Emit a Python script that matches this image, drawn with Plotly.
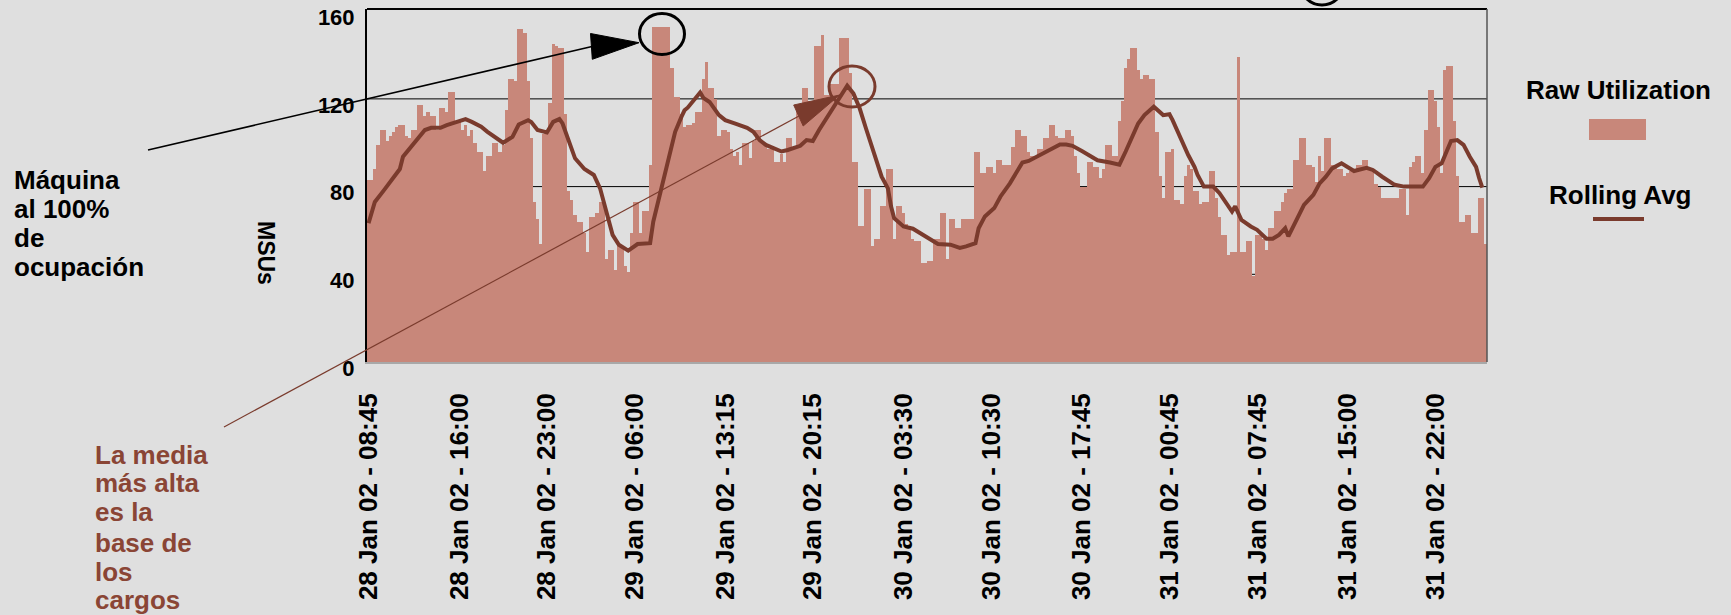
import plotly.graph_objects as go
import pandas as pd
from datetime import datetime

# ---------------- data ----------------
START = "2002-01-28 08:45"
STEP = "15min"

raw_utilization = [
    83, 83, 88, 99, 106, 106, 101, 103, 105, 107,
    108, 108, 103, 102, 106, 106, 117, 117, 112, 114,
    112, 112, 106, 116, 116, 114, 123, 123, 110, 110,
    106, 108, 103, 106, 100, 96, 96, 87, 94, 94,
    100, 100, 96, 99, 115, 129, 129, 128, 152, 152,
    150, 128, 102, 73, 65, 54, 104, 104, 118, 145,
    144, 143, 143, 113, 78, 74, 67, 64, 64, 59,
    50, 66, 66, 68, 73, 73, 47, 51, 51, 42,
    53, 53, 44, 41, 59, 73, 73, 59, 69, 69,
    90, 153, 153, 153, 153, 153, 153, 134, 121, 121,
    113, 107, 108, 108, 109, 114, 114, 129, 137, 125,
    125, 120, 103, 106, 106, 105, 97, 94, 96, 90,
    100, 100, 93, 101, 106, 106, 100, 100, 97, 97,
    91, 91, 95, 91, 102, 102, 98, 117, 117, 125,
    125, 119, 119, 144, 144, 149, 122, 122, 127, 127,
    127, 148, 148, 148, 132, 91, 91, 62, 62, 79,
    79, 53, 56, 56, 71, 71, 88, 88, 56, 71,
    71, 68, 63, 61, 56, 55, 55, 45, 45, 46,
    46, 56, 56, 68, 68, 47, 65, 65, 61, 61,
    65, 65, 65, 65, 96, 96, 86, 86, 89, 89,
    86, 92, 92, 90, 90, 90, 98, 106, 106, 103,
    103, 96, 94, 94, 97, 97, 102, 102, 108, 108,
    103, 102, 102, 106, 106, 103, 94, 86, 80, 80,
    91, 91, 89, 89, 84, 88, 99, 99, 94, 94,
    110, 119, 134, 138, 143, 143, 133, 129, 131, 131,
    129, 129, 105, 85, 75, 96, 96, 97, 74, 74,
    72, 85, 90, 88, 78, 78, 72, 73, 73, 87,
    87, 75, 66, 58, 58, 49, 50, 50, 139, 50,
    50, 55, 55, 39, 58, 58, 56, 51, 61, 61,
    69, 69, 73, 77, 79, 79, 92, 92, 102, 102,
    90, 90, 89, 82, 94, 87, 102, 102, 90, 90,
    88, 88, 85, 86, 87, 87, 90, 90, 92, 92,
    88, 88, 81, 80, 75, 75, 75, 75, 75, 75,
    79, 79, 67, 89, 91, 94, 94, 86, 106, 124,
    124, 119, 107, 86, 133, 135, 135, 110, 85, 64,
    64, 67, 67, 59, 59, 75, 75, 54,
]

# rolling average: sample slot (15-min slot number) and value
rolling_slot = [
    0, 2, 5, 8, 10, 11, 14, 16, 18, 20, 23, 25, 28, 31, 33, 36, 38, 41, 43, 46,
    48, 51, 52, 54, 57, 59, 61, 62, 64, 66, 69, 72, 74, 76, 78, 80, 83, 86, 90, 91,
    93, 95, 96, 98, 100, 101, 102, 104, 106, 107, 109, 112, 114, 117, 121, 123, 125, 127, 130, 132,
    134, 138, 140, 142, 144, 147, 150, 152, 153, 155, 157, 159, 162, 164, 166, 167, 168, 171, 174, 177,
    180, 182, 186, 189, 191, 194, 195, 197, 200, 202, 205, 206, 209, 211, 214, 217, 221, 223, 225, 228,
    230, 233, 237, 240, 242, 244, 246, 248, 251, 254, 256, 257, 259, 262, 264, 265, 267, 270, 272, 274,
    276, 277, 279, 282, 284, 287, 289, 291, 293, 294, 297, 299, 302, 304, 306, 308, 311, 313, 315, 319,
    321, 324, 328, 331, 337, 339, 341, 343, 345, 346, 348, 350, 352, 354, 355, 356,
]
rolling_avg = [
    63.3, 73, 78.5, 83.8, 88, 93.6, 99, 102.7, 105.8, 106.8, 106.8, 108, 109.5, 110.8, 109.5, 107.3, 105, 102, 100, 102.7,
    108.3, 110.3, 109.5, 105.8, 104.7, 109.5, 110.8, 108.8, 100.5, 92.9, 88, 85.3, 79.2, 68.6, 58, 53.5, 50.8, 53.8, 54.2, 64,
    76, 88, 94.4, 105, 111.8, 114.8, 116, 119.4, 122.9, 120.5, 118.6, 112.6, 110.3, 108.8, 106.8, 105, 101.2, 99, 97.4, 96,
    96.7, 98.6, 101.2, 100.8, 105.8, 112.6, 119.4, 123.5, 126, 122.4, 115.6, 106.5, 92.9, 84.5, 79.2, 71, 65.6, 61.8, 60.8, 58.3,
    55.3, 53.8, 53.5, 52, 52.7, 54.2, 61, 66.4, 70.2, 75.5, 81.5, 83.8, 91, 91.7, 94, 96.2, 99.2, 99.2, 98.6, 96.2,
    94.7, 92, 91, 90, 96, 102.7, 108.8, 112.6, 116.4, 112.6, 113, 110.3, 103.5, 94.4, 89, 85.3, 80, 80, 77, 72.4,
    68.6, 71, 64.8, 61.8, 60.3, 56.2, 56.2, 58, 61, 57.3, 65.6, 71.7, 76.2, 81.5, 84.5, 88.3, 90.6, 89, 87.1, 88.6,
    87.6, 84.5, 80.8, 80, 80, 83.8, 89, 90.6, 96.7, 100.8, 101.2, 99, 93.6, 89, 83.8, 79.5,
]

tick_labels = [
    "28 Jan 02 - 08:45", "28 Jan 02 - 16:00", "28 Jan 02 - 23:00",
    "29 Jan 02 - 06:00", "29 Jan 02 - 13:15", "29 Jan 02 - 20:15",
    "30 Jan 02 - 03:30", "30 Jan 02 - 10:30", "30 Jan 02 - 17:45",
    "31 Jan 02 - 00:45", "31 Jan 02 - 07:45", "31 Jan 02 - 15:00",
    "31 Jan 02 - 22:00",
]
y_ticks = [0, 40, 80, 120, 160]
Y_MAX = 161

# ---------------- derived ----------------
times = pd.date_range(START, periods=len(raw_utilization), freq=STEP)
roll_times = [times[i] for i in rolling_slot]
tick_vals = [datetime.strptime(t, "%d %b %y - %H:%M") for t in tick_labels]
half = pd.Timedelta(STEP) / 2

# ---------------- style / layout geometry ----------------
W, H = 1731, 615
L_PX, T_PX, R_PX, B_PX = 367, 9, 1487, 362   # plot box in page pixels
L, T, R, B = L_PX, T_PX, W - R_PX, H - B_PX
PW, PH = W - L - R, H - T - B
BG = "#dfdfdf"
BAR = "#c8877a"
LINE = "#7a3b2d"
BROWN_TXT = "#8a4535"
FONT = "Liberation Sans, Arial, sans-serif"


def X(px):
    return (px - L_PX) / PW


def Y(py):
    return (B_PX - py) / PH


fig = go.Figure()
fig.add_trace(go.Bar(
    x=times, y=raw_utilization, name="Raw Utilization",
    marker=dict(color=BAR, line=dict(width=0)),
    width=pd.Timedelta(STEP).total_seconds() * 1000,
))
fig.add_trace(go.Scatter(
    x=roll_times, y=rolling_avg, name="Rolling Avg", mode="lines",
    line=dict(color=LINE, width=4),
))

shapes = []
for v in y_ticks:
    if 0 < v < y_ticks[-1]:
        shapes.append(dict(type="line", xref="paper", yref="y", x0=0, x1=1, y0=v, y1=v,
                           line=dict(color="black", width=1), layer="below"))
shapes.append(dict(type="line", xref="paper", yref="paper", x0=0, x1=1, y0=1, y1=1,
                   line=dict(color="black", width=2)))
shapes.append(dict(type="line", xref="paper", yref="paper", x0=1, x1=1, y0=0, y1=1,
                   line=dict(color="#555555", width=1.5)))

# black annotation arrow + circle
shapes.append(dict(type="line", xref="paper", yref="paper",
                   x0=X(148), y0=Y(150), x1=X(592), y1=Y(46.5),
                   line=dict(color="black", width=1.6)))
shapes.append(dict(type="path", xref="paper", yref="paper",
                   path=f"M {X(590.5)},{Y(33.5)} L {X(639)},{Y(42.7)} L {X(592.3)},{Y(59.3)} Z",
                   fillcolor="black", line=dict(color="black", width=1)))
shapes.append(dict(type="circle", xref="paper", yref="paper",
                   x0=X(662 - 22.5), x1=X(662 + 22.5), y0=Y(34 + 20.5), y1=Y(34 - 20.5),
                   line=dict(color="black", width=3)))
shapes.append(dict(type="circle", xref="paper", yref="paper",
                   x0=X(1322 - 22), x1=X(1322 + 22), y0=Y(-17 + 22), y1=Y(-17 - 22),
                   line=dict(color="black", width=3)))

# brown annotation arrow + circle
shapes.append(dict(type="line", xref="paper", yref="paper",
                   x0=X(224), y0=Y(427), x1=X(799), y1=Y(116),
                   line=dict(color=LINE, width=1.2)))
shapes.append(dict(type="path", xref="paper", yref="paper",
                   path=f"M {X(793.7)},{Y(105)} L {X(839.6)},{Y(95)} L {X(803.2)},{Y(126)} Z",
                   fillcolor=LINE, line=dict(color=LINE, width=1)))
shapes.append(dict(type="circle", xref="paper", yref="paper",
                   x0=X(852 - 23), x1=X(852 + 23), y0=Y(86.5 + 20.5), y1=Y(86.5 - 20.5),
                   line=dict(color=LINE, width=3)))

# legend swatches
shapes.append(dict(type="rect", xref="paper", yref="paper",
                   x0=X(1589), x1=X(1646), y0=Y(140), y1=Y(119),
                   fillcolor=BAR, line=dict(width=0)))
shapes.append(dict(type="line", xref="paper", yref="paper",
                   x0=X(1593), x1=X(1644), y0=Y(219), y1=Y(219),
                   line=dict(color=LINE, width=4)))

annotations = []
left_black = ["Máquina", "al 100%", "de", "ocupación"]
left_black_y = [180, 209, 238, 267]
for txt, py in zip(left_black, left_black_y):
    annotations.append(dict(text=txt, xref="paper", yref="paper", x=X(12), y=Y(py),
                            xanchor="left", yanchor="middle", showarrow=False,
                            font=dict(family=FONT, size=26, color="black", weight="bold")))
left_brown = ["La media", "más alta", "es la", "base de", "los", "cargos"]
left_brown_y = [455, 483, 512, 543, 572, 600]
for txt, py in zip(left_brown, left_brown_y):
    annotations.append(dict(text=txt, xref="paper", yref="paper", x=X(93), y=Y(py),
                            xanchor="left", yanchor="middle", showarrow=False,
                            font=dict(family=FONT, size=26, color=BROWN_TXT, weight="bold")))
annotations.append(dict(text="MSUs", xref="paper", yref="paper", x=X(266), y=Y(253),
                        xanchor="center", yanchor="middle", showarrow=False, textangle=90,
                        font=dict(family=FONT, size=23, color="black", weight="bold")))
annotations.append(dict(text="Raw Utilization", xref="paper", yref="paper", x=X(1618), y=Y(90),
                        xanchor="center", yanchor="middle", showarrow=False,
                        font=dict(family=FONT, size=26, color="black", weight="bold")))
annotations.append(dict(text="Rolling Avg", xref="paper", yref="paper", x=X(1620), y=Y(195),
                        xanchor="center", yanchor="middle", showarrow=False,
                        font=dict(family=FONT, size=26, color="black", weight="bold")))

fig.update_layout(
    width=W, height=H,
    margin=dict(l=L, r=R, t=T, b=B, pad=0),
    paper_bgcolor=BG, plot_bgcolor=BG,
    showlegend=False, bargap=0,
    shapes=shapes, annotations=annotations,
    xaxis=dict(
        type="date", range=[times[0] - half, times[-1] + half],
        tickmode="array", tickvals=tick_vals, ticktext=tick_labels,
        tickangle=-90, ticks="", ticklabelstandoff=19,
        tickfont=dict(family=FONT, size=26, color="black", weight="bold"),
        showgrid=False, zeroline=False,
        showline=True, linecolor="#a8a8a8", linewidth=2, automargin=False,
    ),
    yaxis=dict(
        range=[0, Y_MAX], tickmode="array", tickvals=y_ticks,
        ticks="", ticklabelstandoff=6, ticklabelshift=6, ticklabeloverflow="allow",
        tickfont=dict(family=FONT, size=22, color="black", weight="bold"),
        showgrid=False, zeroline=False,
        showline=True, linecolor="black", linewidth=2, automargin=False,
    ),
)

# remove the default 8px page margin so the figure fills the window exactly
page_css = ("document.body.style.margin='0';"
            "document.body.style.padding='0';"
            "document.body.style.background='%s';" % BG)
fig.write_html("out.html", post_script=page_css,
               config={"displayModeBar": False, "staticPlot": True})
